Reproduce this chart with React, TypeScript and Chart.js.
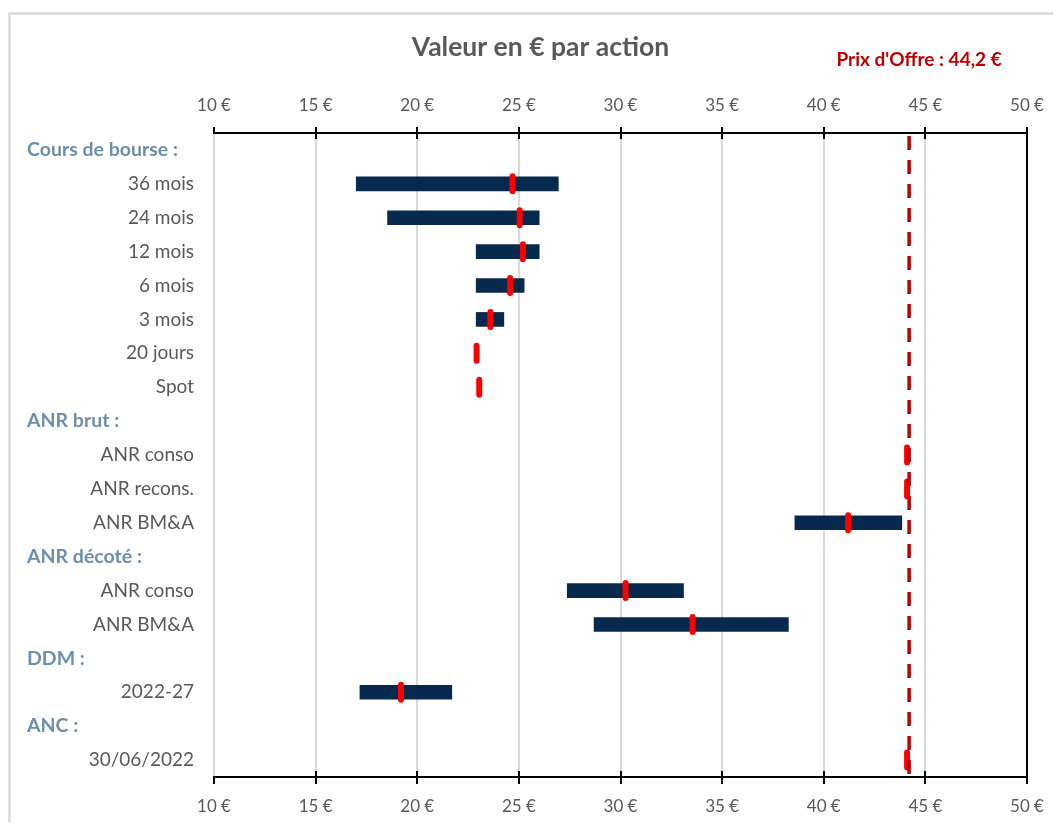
import React, { useEffect, useRef } from "react";
import { Chart, registerables } from "chart.js";

Chart.register(...registerables);

// ---------- data ----------
const categories = [
  "Cours de bourse :",
  "36 mois",
  "24 mois",
  "12 mois",
  "6 mois",
  "3 mois",
  "20 jours",
  "Spot",
  "ANR brut :",
  "ANR conso",
  "ANR recons.",
  "ANR BM&A",
  "ANR décoté :",
  "ANR conso",
  "ANR BM&A",
  "DDM :",
  "2022-27",
  "ANC :",
  "30/06/2022",
];
const rangeLow = [null, 17.0, 18.54, 22.9, 22.9, 22.9, null, null, null, null, null, 38.58, null, 27.38, 28.7, null, 17.18, null, null];
const rangeHigh = [null, 26.94, 26.0, 26.0, 25.26, 24.26, null, null, null, null, null, 43.84, null, 33.1, 38.26, null, 21.7, null, null];
const centralValue = [null, 24.69, 25.04, 25.2, 24.57, 23.6, 22.92, 23.05, null, 44.1, 44.1, 41.2, null, 30.25, 33.55, null, 19.2, null, 44.1];
const offerPrice = 44.2;
const offerLabel = "Prix d'Offre : 44,2 €";
const titleText = "Valeur en € par action";
const xMin = 10;
const xMax = 50;
const xStep = 5;
const xUnit = "€";

// ---------- styles ----------
const FONT = "Lato, 'Open Sans', sans-serif";
const TEXT_GRAY = "#595959";
const HEADER_BLUE = "#6b8fad";
const NAVY = "#08294e";
const RED = "#ff0000";
const DARK_RED = "#c00000";
const GRID_GRAY = "#d9d9d9";

const isHeader = (label: string) => label.trim().endsWith(":");

const decorPlugin = {
  id: "decor",
  beforeDraw(chart: any) {
    const ctx = chart.ctx;
    ctx.save();
    ctx.strokeStyle = GRID_GRAY;
    ctx.lineWidth = 2.5;
    ctx.strokeRect(1.5, 5.5, chart.width + 20, chart.height + 20);
    ctx.restore();
  },
  beforeDatasetDraw(chart: any, args: any) {
    if (args.index === 1) chart.ctx.lineCap = "round";
  },
  afterDatasetDraw(chart: any, args: any) {
    if (args.index === 1) chart.ctx.lineCap = "butt";
  },
  afterDatasetsDraw(chart: any) {
    const { ctx, chartArea: a, scales } = chart;
    const xs = scales.x;
    const ys = scales.y;
    ctx.save();

    // cross tick marks on top and bottom axes
    ctx.strokeStyle = "#000";
    ctx.lineWidth = 2;
    ctx.lineCap = "butt";
    const ticks = xs.ticks;
    ticks.forEach((t: any, i: number) => {
      const px = Math.round(xs.getPixelForValue(t.value));
      ctx.beginPath();
      if (i === 0) {
        ctx.moveTo(px, a.top - 6);
        ctx.lineTo(px, a.top);
        ctx.moveTo(px, a.bottom);
        ctx.lineTo(px, a.bottom + 7);
      } else {
        ctx.moveTo(px, a.top - 6);
        ctx.lineTo(px, a.top + 6);
        ctx.moveTo(px, a.bottom - 6);
        ctx.lineTo(px, a.bottom + 7);
      }
      ctx.stroke();
    });
    // right black border
    const rx = Math.round(xs.getPixelForValue(xMax));
    ctx.beginPath();
    ctx.moveTo(rx, a.top - 6);
    ctx.lineTo(rx, a.bottom + 7);
    ctx.stroke();

    // offer price dashed line
    const ox = xs.getPixelForValue(offerPrice);
    ctx.strokeStyle = DARK_RED;
    ctx.lineWidth = 3.5;
    ctx.setLineDash([14, 10]);
    ctx.beginPath();
    ctx.moveTo(ox, a.top + 3);
    ctx.lineTo(ox, a.bottom);
    ctx.stroke();
    ctx.setLineDash([]);

    ctx.fillStyle = DARK_RED;
    ctx.font = `bold 19px ${FONT}`;
    ctx.textAlign = "center";
    ctx.textBaseline = "middle";
    ctx.fillText(offerLabel, ox + 10, 52);

    // section headers
    ctx.fillStyle = HEADER_BLUE;
    ctx.font = `bold 19.5px ${FONT}`;
    ctx.textAlign = "left";
    categories.forEach((c, i) => {
      if (isHeader(c)) {
        ctx.fillText(c, 19, ys.getPixelForValue(i));
      }
    });
    ctx.restore();
  },
};

export default function App() {
  const canvasRef = useRef<HTMLCanvasElement | null>(null);

  useEffect(() => {
    if (!canvasRef.current) return;
    const barData = rangeLow.map((lo, i) =>
      lo == null || rangeHigh[i] == null ? null : [lo, rangeHigh[i]]
    );
    const chart = new Chart(canvasRef.current, {
      type: "bar",
      data: {
        labels: categories,
        datasets: [
          {
            type: "bar",
            label: "Fourchette",
            data: barData as any,
            backgroundColor: NAVY,
            borderWidth: 0,
            barThickness: 14,
            order: 2,
          } as any,
          {
            type: "line",
            label: "Valeur centrale",
            data: centralValue as any,
            showLine: false,
            pointStyle: "line",
            rotation: 90,
            radius: 7.5,
            hoverRadius: 7.5,
            borderWidth: 6,
            hoverBorderWidth: 6,
            borderColor: RED,
            backgroundColor: RED,
            order: 1,
          } as any,
        ],
      },
      options: {
        indexAxis: "y",
        responsive: false,
        animation: false,
        layout: { padding: { left: 20, right: 0, top: 0, bottom: 0 } },
        plugins: {
          legend: { display: false },
          tooltip: { enabled: false },
          title: {
            display: true,
            text: titleText,
            color: TEXT_GRAY,
            font: { family: FONT, size: 26.5, weight: "bold" },
            padding: { top: 24, bottom: 0 },
          },
        },
        scales: {
          x: {
            type: "linear",
            position: "bottom",
            min: xMin,
            max: xMax,
            ticks: {
              stepSize: xStep,
              color: TEXT_GRAY,
              font: { family: FONT, size: 17 },
              padding: 2,
              maxRotation: 0,
              autoSkip: false,
              callback: (v: any) => `${v} ${xUnit}`,
            },
            grid: {
              color: GRID_GRAY,
              lineWidth: 2,
              drawTicks: true,
              tickLength: 17,
              tickColor: "rgba(0,0,0,0)",
            },
            border: { display: true, color: "#000", width: 2 },
            afterFit: (s: any) => {
              s.height = 45;
            },
          },
          x2: {
            type: "linear",
            axis: "x",
            position: "top",
            min: xMin,
            max: xMax,
            ticks: {
              stepSize: xStep,
              color: TEXT_GRAY,
              font: { family: FONT, size: 17 },
              padding: 2,
              maxRotation: 0,
              autoSkip: false,
              callback: (v: any) => `${v} ${xUnit}`,
            },
            grid: {
              drawOnChartArea: false,
              drawTicks: true,
              tickLength: 15,
              tickColor: "rgba(0,0,0,0)",
            },
            border: { display: true, color: "#000", width: 2 },
            afterFit: (s: any) => {
              s.height = 69.2;
            },
          },
          y: {
            type: "category",
            position: "left",
            offset: true,
            ticks: {
              color: TEXT_GRAY,
              font: { family: FONT, size: 19 },
              padding: 20,
              autoSkip: false,
              callback: (_v: any, i: number) => (isHeader(categories[i]) ? "" : categories[i]),
            },
            grid: { display: false, drawTicks: false },
            border: { display: false },
            afterFit: (s: any) => {
              s.width = 186;
            },
          },
          y2: {
            type: "linear",
            axis: "y",
            position: "right",
            display: true,
            ticks: { display: false },
            grid: { display: false, drawTicks: false },
            border: { display: false },
            afterFit: (s: any) => {
              s.width = 26;
            },
          },
        },
      } as any,
      plugins: [decorPlugin as any],
    });
    return () => chart.destroy();
  }, []);

  return (
    <div style={{ width: 1045, height: 814 }}>
      <canvas ref={canvasRef} width={1045} height={814} style={{ display: "block" }} />
    </div>
  );
}
